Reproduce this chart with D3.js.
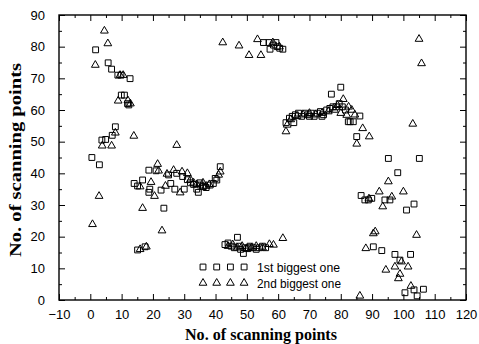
<!DOCTYPE html>
<html>
<head>
<meta charset="utf-8">
<script src="https://cdn.jsdelivr.net/npm/d3@7"></script>
<style>
  body { margin: 0; background: #fff; }
  .tick text { font-family: "Liberation Sans", Arial, sans-serif; font-size: 13px; fill: #000; }
  .axis path.domain { display: none; }
  .axis line { stroke: #000; stroke-width: 1; }
</style>
</head>
<body>
<div id="chart"></div>
<script>
// ---- data ----
const xTicks = [-10, 0, 10, 20, 30, 40, 50, 60, 70, 80, 90, 100, 110, 120];
const yTicks = [0, 10, 20, 30, 40, 50, 60, 70, 80, 90];
const seriesNames = ['1st biggest one', '2nd biggest one'];

// 1st biggest (squares)
const firstBiggest = [
  [1.7,79],[5.7,74.9],[6.8,72.9],[8.8,71],[9.8,71],[12.7,69.9],[9.9,64.7],[10.9,64.7],[11.9,62],[12.3,61.6],
  [8,54.7],[3.7,50.5],[4.9,50.7],[7,52],[0.5,45],[2.9,42.7],
  [14,36.8],[15.1,36],[16.7,37.9],[18.7,34],[19,35],[18.7,41],[21,40.8],[22.6,34.7],[23.5,29],[25,39.5],
  [27.6,40],[25.7,36.8],[29.5,39],[31,38],[32,37],[33,36.5],[34,35],[34.5,34],[35,37],[36,36],[37,35.5],
  [38.3,36.3],[39.3,36.8],[35.1,36.3],[36.1,35.8],[39.9,38.4],[40.4,37.9],[41.5,42.1],[30,35],[27,35],
  [15.1,15.8],[17.5,16.8],
  [43,17.5],[44,18],[45,17],[46,16.5],[47,19.8],[47.5,17],[48,16],[48.9,14.7],[49.5,16.5],[50.5,16.5],
  [51,17],[52,16.5],[53,16],[54,16.5],[55,17],[56,16.5],
  [55.3,81.3],[57.1,81.3],[57.4,79.2],[59.3,81.3],[59.7,80],[61.5,79.2],[58.5,80.5],[60.5,79.5],
  [62.5,56],[63.6,57.4],[64.5,58],[65.5,58.5],[66.5,59],[67.5,58],[68.5,59],[69.5,58.5],[70.5,59],[71.5,58],
  [72.5,59],[73.5,59.5],[74.5,58.5],[75.5,60],[76.5,60.5],[77.5,61],[78.5,61],[79.5,62],[80.5,61],[82.4,56.3],
  [77,65],[80,67.2],[83,56.3],[84,56.3],[86.1,58.1],[81.5,60],[65,56],[70,58],[74,58],
  [85.1,51.6],[95.2,44.7],[105.1,44.7],[98.2,40.2],[87.7,31.6],[88.8,31.6],[89.9,32.1],[94.1,31.6],[95.7,31.6],
  [101,28.4],[103.4,30.3],[90.4,16.8],[93.1,15.6],[97.3,14.4],[102.3,14.4],[98.9,12.6],[100.5,2.3],[104.4,1.3],
  [103.4,3.2],[106.4,3.4],[86.5,33]
];

// 2nd biggest (triangles)
const secondBiggest = [
  [4.5,85],[5.6,81],[1.6,74.2],[9.5,71],[10.5,71],[8.9,62.9],[12,63],[12.8,62],[8,52.8],[13.9,51.8],
  [3.8,48.7],[6.8,48.7],[27.6,48.9],[2.8,32.8],[0.7,23.9],
  [15.9,35.8],[16.7,29],[19.4,37.2],[21.8,40.8],[21.5,42.9],[20.5,32.8],[22.9,21.9],[24.5,39.8],[26.6,41],
  [29.3,40.5],[28.7,33.9],[31,40],[32,38],[33,37],[34,36.5],[36,37],[37,36],[38,36.5],[41.5,40.5],[41,39.5],[24,36],
  [15.9,16],[17.9,16.8],
  [44,17],[45.5,17.5],[47,16.5],[48.5,17],[50,16],[51.5,16.5],[53,17],[57.2,17.6],[58.5,17.4],[61.5,19.5],[55,16.5],
  [42.3,81.3],[47.5,80.3],[50.7,77.3],[54.5,77.3],[53.4,82.3],[58.3,81.3],[60.4,80],
  [62.5,53.2],[62.9,55.3],[64,57],[66,58],[68,58.5],[70,59],[72,58.5],[74,59],[76,59.5],[78,60],[79,61.5],
  [80.8,63.4],[81.9,58.4],[82.5,61],[83.5,60],[84.5,58.5],[80,59],
  [87,54.2],[89.1,51.6],[85.1,49.3],[105,82.4],[105.8,74.7],[103,55.6],[95.2,37.4],[92.3,34.2],[96.3,32.6],
  [100,34.2],[93.4,29.5],[90.4,21],[91,21.6],[104.2,20.5],[88,16.3],[94.4,9.5],[97.3,10.5],[99.4,12.1],
  [101.5,10.5],[98.9,8.2],[98.4,6.8],[102.4,4.4],[86.1,1.3],[89,32]
];

// ---- layout ----
const width = 479, height = 344;
const margin = { top: 15, right: 13, bottom: 44, left: 59 };
const w = width - margin.left - margin.right;
const h = height - margin.top - margin.bottom;

const svg = d3.select('#chart').append('svg').attr('width', width).attr('height', height);
const g = svg.append('g').attr('transform', `translate(${margin.left},${margin.top})`);

const x = d3.scaleLinear().domain([-10, 120]).range([0, w]);
const y = d3.scaleLinear().domain([0, 90]).range([h, 0]);

const xMinor = d3.range(-5, 120, 10);
const yMinor = d3.range(5, 90, 10);

// axes with inward ticks, all four sides
g.append('g').attr('class', 'axis').attr('transform', `translate(0,${h})`)
  .call(d3.axisBottom(x).tickValues(xTicks).tickSize(-6).tickSizeOuter(0).tickPadding(12))
  .selectAll('text').attr('dy', '0.5em');
g.append('g').attr('class', 'axis').attr('transform', `translate(0,${h})`)
  .call(d3.axisBottom(x).tickValues(xMinor).tickSize(-3).tickFormat(''));
g.append('g').attr('class', 'axis')
  .call(d3.axisTop(x).tickValues(xTicks).tickSize(-6).tickFormat(''));
g.append('g').attr('class', 'axis')
  .call(d3.axisTop(x).tickValues(xMinor).tickSize(-3).tickFormat(''));

g.append('g').attr('class', 'axis')
  .call(d3.axisLeft(y).tickValues(yTicks).tickSize(-6).tickSizeOuter(0).tickPadding(14));
g.append('g').attr('class', 'axis')
  .call(d3.axisLeft(y).tickValues(yMinor).tickSize(-3).tickFormat(''));
g.append('g').attr('class', 'axis').attr('transform', `translate(${w},0)`)
  .call(d3.axisRight(y).tickValues(yTicks).tickSize(-6).tickFormat(''));
g.append('g').attr('class', 'axis').attr('transform', `translate(${w},0)`)
  .call(d3.axisRight(y).tickValues(yMinor).tickSize(-3).tickFormat(''));

// frame
g.append('rect').attr('width', w).attr('height', h)
  .attr('fill', 'none').attr('stroke', '#000').attr('stroke-width', 1.4);

// markers
const sq = d3.symbol().type(d3.symbolSquare).size(34);
const tri = d3.symbol().type(d3.symbolTriangle).size(26);

g.selectAll('.s1').data(firstBiggest).enter().append('path')
  .attr('class', 's1')
  .attr('d', sq)
  .attr('transform', d => `translate(${x(d[0])},${y(d[1])})`)
  .attr('fill', 'none').attr('stroke', '#000').attr('stroke-width', 1);

g.selectAll('.s2').data(secondBiggest).enter().append('path')
  .attr('class', 's2')
  .attr('d', tri)
  .attr('transform', d => `translate(${x(d[0])},${y(d[1])})`)
  .attr('fill', 'none').attr('stroke', '#000').attr('stroke-width', 1);

// legend
const legend = svg.append('g').attr('transform', 'translate(203,267)');
[sq, tri].forEach((sym, i) => {
  const row = legend.append('g').attr('transform', `translate(0,${i * 16})`);
  for (let k = 0; k < 4; k++) {
    row.append('path').attr('d', sym)
      .attr('transform', `translate(${k * 13.7},0)`)
      .attr('fill', 'none').attr('stroke', '#000').attr('stroke-width', 1);
  }
  row.append('text').attr('x', 54).attr('y', 5)
    .attr('textLength', i === 0 ? 83 : 84).attr('lengthAdjust', 'spacingAndGlyphs')
    .style('font-family', '"Liberation Sans", Arial, sans-serif').style('font-size', '13px')
    .text(seriesNames[i]);
});

// axis titles
svg.append('text')
  .attr('x', 261).attr('y', 340)
  .attr('text-anchor', 'middle')
  .attr('textLength', 152).attr('lengthAdjust', 'spacingAndGlyphs')
  .style('font-family', '"Liberation Serif", "Times New Roman", serif')
  .style('font-weight', 'bold').style('font-size', '16px')
  .text('No. of scanning points');

svg.append('text')
  .attr('transform', `translate(21,160) rotate(-90)`)
  .attr('text-anchor', 'middle')
  .attr('textLength', 194).attr('lengthAdjust', 'spacingAndGlyphs')
  .style('font-family', '"Liberation Serif", "Times New Roman", serif')
  .style('font-weight', 'bold').style('font-size', '16px')
  .text('No. of scanning points');
</script>
</body>
</html>
